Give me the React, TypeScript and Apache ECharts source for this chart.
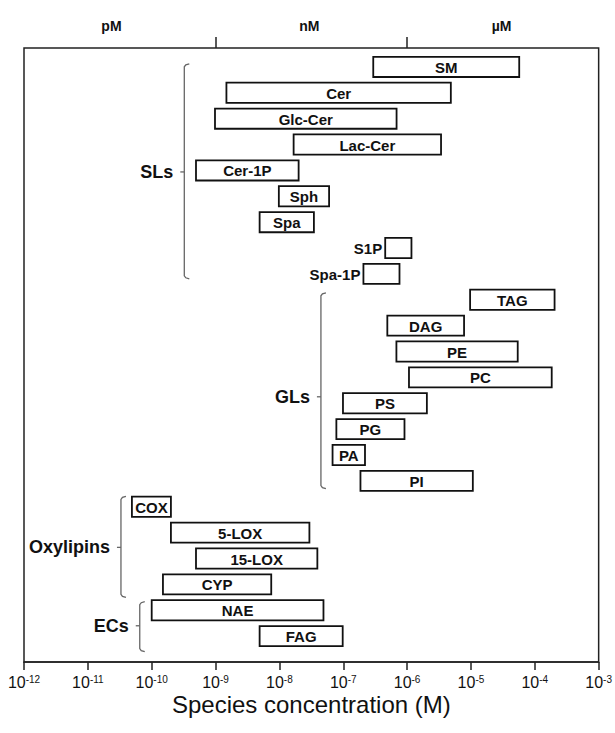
import React, { useEffect, useRef } from "react";
import * as echarts from "echarts";

// ---- data ----
const species = [
  "SM", "Cer", "Glc-Cer", "Lac-Cer", "Cer-1P", "Sph", "Spa", "S1P", "Spa-1P",
  "TAG", "DAG", "PE", "PC", "PS", "PG", "PA", "PI",
  "COX", "5-LOX", "15-LOX", "CYP",
  "NAE", "FAG",
];
const lowConc = [
  2.95e-7, 1.48e-9, 9.8e-10, 1.67e-8, 4.94e-10, 9.8e-9, 4.9e-9, 4.54e-7, 2.07e-7,
  9.7e-6, 4.9e-7, 6.8e-7, 1.07e-6, 9.9e-8, 7.8e-8, 6.8e-8, 1.86e-7,
  4.9e-11, 2.0e-10, 4.94e-10, 1.5e-10,
  1.0e-10, 4.9e-9,
];
const highConc = [
  5.7e-5, 4.84e-6, 6.84e-7, 3.4e-6, 2.0e-8, 6.0e-8, 3.47e-8, 1.17e-6, 7.6e-7,
  2.04e-4, 7.8e-6, 5.4e-5, 1.84e-4, 2.04e-6, 9.1e-7, 2.19e-7, 1.07e-5,
  2.0e-10, 2.95e-8, 3.93e-8, 7.45e-9,
  4.9e-8, 9.8e-8,
];
const labelOutside = ["S1P", "Spa-1P"];

const groupNames = ["SLs", "GLs", "Oxylipins", "ECs"];
const groupFirstRow = [0, 9, 17, 21];
const groupLastRow = [8, 16, 20, 22];

const unitLabels = ["pM", "nM", "µM"];

// ---- layout (positions, not data) ----
const groupBracketX = [3.24e-10, 4.47e-8, 3.3e-11, 6.5e-11];
const groupTopPad = [0.12, 0.27, 0.4, 0.33];
const groupBottomPad = [0.19, 0.3, 0.5, 0.6];
const groupMidRow = [4.06, 12.75, 18.57, 21.6];
const unitLabelPos = [-10.63, -7.53, -4.52];

const FONT = "'Liberation Sans', Arial, Helvetica, sans-serif";

export default function App() {
  const ref = useRef<HTMLDivElement>(null);

  useEffect(() => {
    document.body.style.margin = "0";
    if (!ref.current) return;
    const chart = echarts.init(ref.current, undefined, { renderer: "svg" });

    const barData = species.map((name, i) => [lowConc[i], highConc[i], i, name]);
    const groupData = groupNames.map((name, i) => [
      groupBracketX[i],
      groupFirstRow[i] - groupTopPad[i],
      groupLastRow[i] + groupBottomPad[i],
      groupMidRow[i],
      name,
    ]);

    const option: any = {
      animation: false,
      backgroundColor: "#fff",
      grid: {
        left: 24,
        right: 14,
        top: 48,
        bottom: 71,
        show: true,
        borderColor: "#222",
        borderWidth: 1.5,
        backgroundColor: "transparent",
      },
      xAxis: [
        {
          type: "log",
          logBase: 10,
          min: 1e-12,
          max: 1e-3,
          interval: 1,
          position: "bottom",
          axisLine: { show: true, onZero: false, lineStyle: { color: "#222", width: 1.5 } },
          axisTick: { show: true, length: 8, lineStyle: { color: "#222", width: 1.5 } },
          splitLine: { show: false },
          minorTick: { show: false },
          axisLabel: {
            margin: 12,
            formatter: (v: number) => `{b|10}{s|${Math.round(Math.log10(v))}}`,
            rich: {
              b: { fontSize: 16, fontFamily: FONT, color: "#111", lineHeight: 16, verticalAlign: "bottom" },
              s: { fontSize: 10, fontFamily: FONT, color: "#111", lineHeight: 16, verticalAlign: "top" },
            },
          },
          name: "Species concentration (M)",
          nameLocation: "middle",
          nameGap: 30,
          nameMoveOverlap: false,
          nameTextStyle: { fontSize: 24, fontFamily: FONT, color: "#111", lineHeight: 24 },
        },
        {
          type: "value",
          min: -12,
          max: -3,
          position: "top",
          axisLine: { show: false, onZero: false },
          axisTick: {
            show: true,
            length: 11,
            customValues: [-9, -6],
            lineStyle: { color: "#222", width: 1.5 },
          },
          splitLine: { show: false },
          axisLabel: {
            show: true,
            margin: 15,
            customValues: unitLabelPos,
            formatter: (v: number) => (v < -9 ? unitLabels[0] : v < -6 ? unitLabels[1] : unitLabels[2]),
            fontSize: 14,
            fontWeight: "bold",
            fontFamily: FONT,
            color: "#111",
          },
        },
      ],
      yAxis: {
        type: "value",
        inverse: true,
        min: -0.73,
        max: 23,
        show: false,
        axisLine: { onZero: false },
      },
      series: [
        {
          type: "custom",
          xAxisIndex: 0,
          yAxisIndex: 0,
          data: barData,
          renderItem: (params: any, api: any) => {
            const lo = api.value(0);
            const hi = api.value(1);
            const row = api.value(2);
            const name = species[params.dataIndex];
            const p1 = api.coord([lo, row]);
            const p2 = api.coord([hi, row]);
            const rowH = Math.abs(api.coord([lo, row + 0.5])[1] - api.coord([lo, row - 0.5])[1]);
            const h = rowH * 0.78;
            const outside = labelOutside.indexOf(name) >= 0;
            return {
              type: "group",
              children: [
                {
                  type: "rect",
                  shape: { x: p1[0], y: p1[1] - h / 2, width: p2[0] - p1[0], height: h },
                  style: { fill: "#fff", stroke: "#111", lineWidth: 1.8 },
                },
                {
                  type: "text",
                  x: outside ? p1[0] - 3 : (p1[0] + p2[0]) / 2,
                  y: p1[1] + 0.5,
                  style: {
                    text: name,
                    align: outside ? "right" : "center",
                    verticalAlign: "middle",
                    fontSize: 15,
                    fontWeight: "bold",
                    fontFamily: FONT,
                    fill: "#111",
                  },
                },
              ],
            };
          },
        },
        {
          type: "custom",
          xAxisIndex: 0,
          yAxisIndex: 0,
          data: groupData,
          renderItem: (params: any, api: any) => {
            const xv = api.value(0);
            const top = api.coord([xv, api.value(1)]);
            const bot = api.coord([xv, api.value(2)]);
            const mid = api.coord([xv, api.value(3)]);
            const x = top[0];
            const stroke = { stroke: "#666", lineWidth: 1.3, fill: null };
            return {
              type: "group",
              children: [
                {
                  type: "polyline",
                  shape: {
                    points: [
                      [x + 5, top[1]],
                      [x + 1.5, top[1] + 1],
                      [x, top[1] + 3],
                      [x, bot[1] - 3],
                      [x + 1.5, bot[1] - 1],
                      [x + 5, bot[1]],
                    ],
                  },
                  style: stroke,
                },
                {
                  type: "line",
                  shape: { x1: x, y1: mid[1], x2: x - 4, y2: mid[1] },
                  style: stroke,
                },
                {
                  type: "text",
                  x: x - 11,
                  y: mid[1],
                  style: {
                    text: groupNames[params.dataIndex],
                    align: "right",
                    verticalAlign: "middle",
                    fontSize: 18,
                    fontWeight: "bold",
                    fontFamily: FONT,
                    fill: "#111",
                  },
                },
              ],
            };
          },
        },
      ],
    };

    chart.setOption(option);
    return () => chart.dispose();
  }, []);

  return <div ref={ref} style={{ width: 615, height: 733 }} />;
}
